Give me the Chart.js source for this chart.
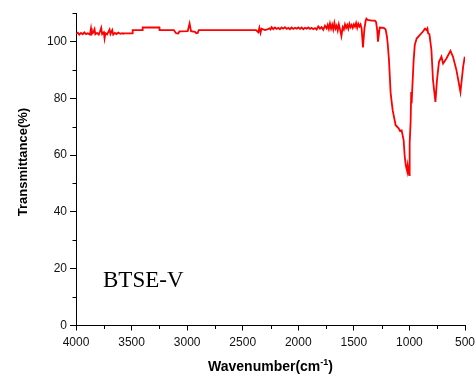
<!DOCTYPE html>
<html>
<head>
<meta charset="utf-8">
<script src="https://cdn.jsdelivr.net/npm/chart.js@4/dist/chart.umd.min.js"></script>
<style>
  html, body { margin: 0; padding: 0; background: #fff; }
  #wrap { width: 476px; height: 376px; position: relative; }
</style>
</head>
<body>
<div id="wrap"><canvas id="c" width="476" height="376"></canvas></div>
<script>
// ---- data ----
const wavenumbers = [
  4000,3985,3970,3955,3940,3925,3910,3895,3875,3865,3858,3845,3833,3826,3810,3795,3785,3773,3765,3750,
  3743,3735,3720,3710,3698,3690,3674,3665,3650,3635,3620,3600,3585,3580,3491,3490,3402,3400,3250,3248,
  3120,3100,3080,3070,2995,2978,2965,2930,2918,2905,2895,2380,2360,2350,2340,2330,2300,2280,2260,
  2250,2240,2225,2210,2195,2180,2165,2150,2135,2120,2105,2090,2075,2060,2045,2030,2015,2000,1985,1970,
  1955,1940,1925,1910,1895,1880,1865,1850,1835,1820,1805,1790,1775,1760,1745,1735,1725,1715,1705,1695,
  1685,1675,1665,1655,1645,1635,1625,1612,1600,1590,1580,1570,1560,1550,1540,1530,1520,1510,1500,1490,
  1480,1470,1460,1450,1440,1430,1418,1405,1395,1387,1375,1340,1310,1300,1290,1283,1275,1267,1230,1214,
  1202,1195,1184,1169,1151,1124,1097,1085,1070,1052,1043,1035,1029,1022,1016,1008,1002,998,989,984,
  980,975,962,952,935,907,880,860,847,838,832,820,802,788,766,752,734,712,697,667,
  631,608,577,541,517,502
];
const transmittance = [
  102.7,103.1,102.4,103.0,102.5,103.2,102.6,102.9,102.4,104.6,102.6,103.1,104.3,102.5,103.0,102.4,103.4,104.8,102.6,103.2,
  101.0,102.9,102.5,103.3,104.2,102.6,104.0,102.4,103.0,102.6,103.1,102.7,102.9,102.8,102.8,104.0,104.0,104.9,104.9,104.0,
  104.0,102.9,102.8,103.5,103.6,106.3,103.6,103.4,102.9,103.0,104.0,104.0,103.2,104.8,103.0,104.5,104.0,104.2,104.6,
  104.2,105.0,104.3,104.9,104.4,104.8,104.3,104.9,104.5,105.0,104.4,104.8,104.3,104.9,104.4,104.8,104.5,104.9,104.4,104.9,
  104.3,104.8,104.5,104.9,104.4,104.8,104.3,104.7,104.2,105.3,104.5,105.0,104.1,105.5,104.6,105.8,104.4,106.3,104.5,105.9,
  104.2,106.5,104.5,105.5,103.8,106.0,104.4,101.9,105.0,104.2,106.0,104.8,105.8,104.5,106.2,105.0,105.8,104.8,106.0,105.2,
  106.5,104.8,106.2,105.3,106.0,104.5,97.9,104.5,107.0,108.0,107.6,107.3,107.3,106.8,104.0,99.9,102.5,104.9,104.8,104.2,
  101.6,99.0,93.4,81.8,75.8,70.5,69.4,68.5,68.7,65.2,59.9,57.0,55.7,54.6,56.4,54.0,52.9,64.0,72.0,82.2,
  78.2,82.8,93.4,98.7,101.0,102.2,103.4,104.5,104.0,104.6,102.9,102.5,96.9,86.4,78.7,86.4,92.8,94.6,92.2,94.0,
  96.7,94.6,89.9,82.2,91.0,94.6
];
const xMajorTicks = [4000,3500,3000,2500,2000,1500,1000,500];
const xMinorTicks = [3750,3250,2750,2250,1750,1250,750];
const yMajorTicks = [0,20,40,60,80,100];
const yMinorTicks = [10,30,50,70,90,110];
const xTitleMain = 'Wavenumber(cm';
const xTitleSup = '-1';
const xTitleEnd = ')';
const yTitle = 'Transmittance(%)';
const sampleLabel = 'BTSE-V';

const points = wavenumbers.map((w, i) => ({ x: w, y: transmittance[i] }));

const decor = {
  id: 'decor',
  afterDraw(chart) {
    const ctx = chart.ctx;
    const xs = chart.scales.x, ys = chart.scales.y;
    const ca = chart.chartArea;
    ctx.save();
    ctx.strokeStyle = '#000';
    ctx.lineWidth = 1;
    ctx.beginPath();
    xMinorTicks.forEach(v => {
      const px = Math.round(xs.getPixelForValue(v)) + 0.5;
      ctx.moveTo(px, ca.bottom);
      ctx.lineTo(px, ca.bottom + 3.5);
    });
    yMinorTicks.forEach(v => {
      const py = Math.round(ys.getPixelForValue(v)) + 0.5;
      ctx.moveTo(ca.left, py);
      ctx.lineTo(ca.left - 3.5, py);
    });
    ctx.stroke();

    // x title with superscript
    ctx.fillStyle = '#000';
    ctx.textBaseline = 'alphabetic';
    const fMain = 'bold 14px "Liberation Sans", Arial, sans-serif';
    const fSup = 'bold 9px "Liberation Sans", Arial, sans-serif';
    ctx.font = fMain;
    const w1 = ctx.measureText(xTitleMain).width;
    const w3 = ctx.measureText(xTitleEnd).width;
    ctx.font = fSup;
    const w2 = ctx.measureText(xTitleSup).width;
    const total = w1 + w2 + w3;
    const cx = (ca.left + ca.right) / 2;
    let x0 = cx - total / 2;
    const base = 371;
    ctx.font = fMain;
    ctx.textAlign = 'left';
    ctx.fillText(xTitleMain, x0, base);
    ctx.font = fSup;
    ctx.fillText(xTitleSup, x0 + w1, base - 6);
    ctx.font = fMain;
    ctx.fillText(xTitleEnd, x0 + w1 + w2, base);

    // y title
    ctx.save();
    ctx.translate(23, 162);
    ctx.rotate(-Math.PI / 2);
    ctx.font = 'bold 13px "Liberation Sans", Arial, sans-serif';
    ctx.textAlign = 'center';
    ctx.textBaseline = 'middle';
    ctx.fillText(yTitle, 0, 0);
    ctx.restore();

    // sample label
    ctx.font = '23px "Liberation Serif", "Times New Roman", serif';
    ctx.textAlign = 'left';
    ctx.textBaseline = 'alphabetic';
    ctx.fillText(sampleLabel, 103, 287);
    ctx.restore();
  }
};

new Chart(document.getElementById('c'), {
  type: 'scatter',
  data: {
    datasets: [{
      data: points,
      showLine: true,
      borderColor: '#ff0000',
      backgroundColor: '#ff0000',
      borderWidth: 1.8,
      pointRadius: 0,
      tension: 0
    }]
  },
  options: {
    responsive: false,
    animation: false,
    layout: { padding: { left: 0, right: 11, top: 13, bottom: 0 } },
    plugins: { legend: { display: false }, tooltip: { enabled: false } },
    scales: {
      x: {
        type: 'linear',
        reverse: true,
        min: 500,
        max: 4000,
        afterBuildTicks: s => { s.ticks = xMajorTicks.map(v => ({ value: v })); },
        afterFit: s => { s.height = 50.5; s.paddingLeft = 0; s.paddingRight = 0; },
        grid: { drawOnChartArea: false, drawTicks: true, tickLength: 5, color: '#000' },
        border: { display: true, color: '#000', width: 1 },
        ticks: { color: '#111', font: { family: '"Liberation Sans", Arial, sans-serif', size: 12 }, padding: 5, maxRotation: 0, autoSkip: false, callback: v => String(v) }
      },
      y: {
        min: 0,
        max: 110,
        afterBuildTicks: s => { s.ticks = yMajorTicks.map(v => ({ value: v })); },
        afterFit: s => { s.width = 76; s.paddingTop = 0; s.paddingBottom = 0; },
        grid: { drawOnChartArea: false, drawTicks: true, tickLength: 6, color: '#000' },
        border: { display: true, color: '#000', width: 1 },
        ticks: { color: '#111', font: { family: '"Liberation Sans", Arial, sans-serif', size: 12 }, padding: 3, callback: v => String(v) }
      }
    }
  },
  plugins: [decor]
});
</script>
</body>
</html>
